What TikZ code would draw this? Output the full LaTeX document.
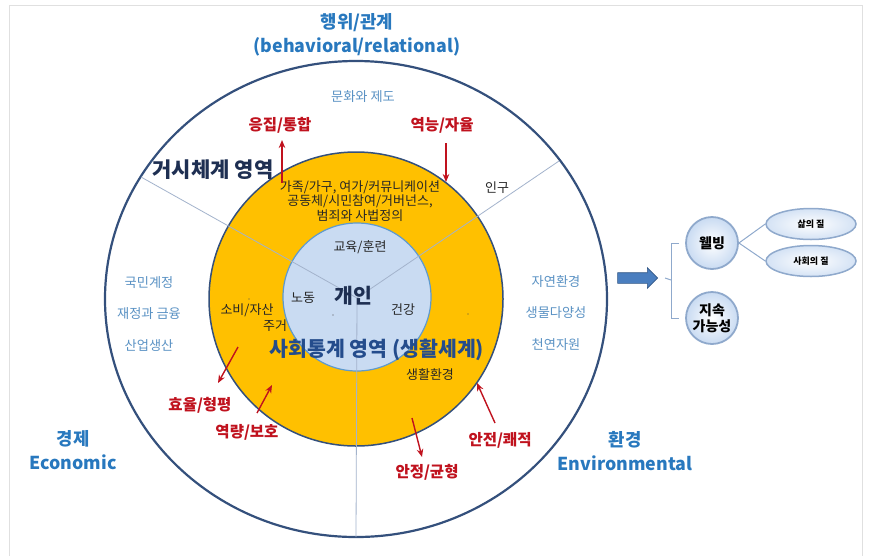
\documentclass[tikz,border=0pt]{standalone}
\usepackage{fontspec}
\setmainfont{Noto Sans CJK KR}
\usepackage{xcolor}
\usetikzlibrary{shapes.geometric,shapes.arrows,arrows.meta}

\definecolor{headblue}{HTML}{2878BE}
\definecolor{softblue}{HTML}{5A92C4}
\definecolor{navy}{HTML}{1E2F52}
\definecolor{lifeblue}{HTML}{244C8C}
\definecolor{darkred}{HTML}{C0121E}
\definecolor{ringline}{HTML}{34507C}
\definecolor{gold}{HTML}{FFC000}
\definecolor{pale}{HTML}{C9DBF2}
\definecolor{spoke}{HTML}{A3B3CC}
\definecolor{ballline}{HTML}{8FA9CC}
\definecolor{arrowblue}{HTML}{4A7EBF}

\begin{document}
\begin{tikzpicture}[x=1pt,y=-1pt,
  areahead/.style={font=\bfseries\fontsize{17.8}{24}\selectfont,text=headblue,align=center},
  sidetxt/.style={font=\fontsize{13.2}{15}\selectfont,text=softblue},
  ringtxt/.style={font=\fontsize{13}{14.5}\selectfont,text=black!85,align=center},
  redlab/.style={font=\bfseries\fontsize{15.5}{17}\selectfont,text=darkred},
  push/.style={->,>={Stealth[length=8pt,width=6.5pt]},draw=darkred,line width=1.4pt},
  goalball/.style={circle,minimum size=52pt,inner sep=0pt,draw=ballline,line width=1.8pt,
    inner color=white,outer color=pale,font=\bfseries\fontsize{14}{16}\selectfont,align=center},
  subell/.style={ellipse,minimum width=90pt,minimum height=31pt,inner sep=0pt,draw=ballline,line width=1.5pt,
    inner color=white,outer color=pale!80,font=\bfseries\fontsize{9}{10}\selectfont},
  bracket/.style={draw=ballline,line width=1pt}]
  \useasboundingbox (0,0) rectangle (869,555);
  \draw[black!12] (9,560) -- (9,5) -- (862,5) -- (862,560);

  % rings
  \coordinate (hub) at (357,298);
  \draw[ringline,line width=2.2pt,fill=white] (356,299) ellipse [x radius=251,y radius=238];
  \draw[ringline,line width=1.5pt,fill=gold] (356,299) circle [radius=147];
  \draw[headblue!75,line width=1.2pt,fill=pale] (357,297) circle [radius=74];
  \foreach \n/\p in {nw/{141,177},ne/{559,161},s/{356,537}} {
    \coordinate (\n) at (\p);
    \draw[spoke,line width=0.8pt] (hub) -- (\n);
  }

  % three domains
  \node[areahead] (act) at (357,35) {행위/관계\\(behavioral/relational)};
  \node[areahead] (econ) at (73,450) {경제\\Economic};
  \node[areahead] (env) at (625,451) {환경\\Environmental};

  \node[sidetxt] (culture) at (363,97) {문화와 제도};
  \foreach \n/\y/\t in {a/283/국민계정,b/314/재정과 금융,c/346/산업생산}
    \node[sidetxt] (eco\n) at (149,\y) {\t};
  \foreach \n/\y/\t in {a/282/자연환경,b/313/생물다양성,c/345/천연자원}
    \node[sidetxt] (nat\n) at (556,\y) {\t};

  \node[font=\bfseries\fontsize{21}{22}\selectfont,text=navy] (macro) at (213,170) {거시체계 영역};
  \node[ringtxt] (pop) at (497,188) {인구};

  % life world
  \node[ringtxt] (commun) at (360,201) {가족/가구, 여가/커뮤니케이션\\공동체/시민참여/거버넌스,\\범죄와 사법정의};
  \node[ringtxt] (edu) at (360,247) {교육/훈련};
  \node[ringtxt] (labor) at (303,298) {노동};
  \node[ringtxt] (health) at (403,310) {건강};
  \node[ringtxt] (cons) at (247,310) {소비/자산};
  \node[ringtxt] (house) at (275,326) {주거};
  \node[ringtxt] (living) at (430,375) {생활환경};
  \node[font=\bfseries\fontsize{20.5}{22}\selectfont,text=navy] (self) at (353,296) {개인};
  \node[font=\bfseries\fontsize{20.5}{22}\selectfont,text=lifeblue] (life) at (377,350) {사회통계 영역 (생활세계)};
  \foreach \p in {{249,299},{333,315},{468,314}} \fill[black!70] (\p) circle (0.7pt);

  % values
  \node[redlab] (coh) at (280,125) {응집/통합};
  \node[redlab] (auto) at (442,125) {역능/자율};
  \node[redlab] (eff) at (200,405) {효율/형평};
  \node[redlab] (cap) at (247,432) {역량/보호};
  \node[redlab] (bal) at (427,472) {안정/균형};
  \node[redlab] (safe) at (500,440) {안전/쾌적};
  \foreach \n/\ax/\ay/\bx/\by in {coh/282/183/282/140,auto/446/143/446/182,eff/238/347/218/383,
    cap/257/413/272/385,bal/412/418/422/457,safe/495/423/477/383} {
    \coordinate (\n0) at (\ax,\ay);
    \coordinate (\n1) at (\bx,\by);
    \draw[push] (\n0) -- (\n1);
  }

  % outcome
  \node[single arrow,fill=arrowblue,draw=arrowblue!70!black,line width=0.6pt,minimum height=40pt,
    single arrow head extend=5pt,inner sep=5pt] (go) at (635,278) {};
  \node[goalball] (well) at (712,243) {웰빙};
  \node[goalball] (sus) at (712,318) {지속\\가능성};
  \node[subell] (qol) at (811,224) {삶의 질};
  \node[subell] (sqol) at (811,261) {사회의 질};
  \coordinate (fork) at (671,280);
  \draw[bracket] ([xshift=-6pt]well.west) -| (fork) |- ([xshift=-6pt]sus.west);
  \draw[bracket] (fork) -- ([xshift=7pt]go.east);
  \draw[bracket] (well.east) -- (qol.west);
  \draw[bracket] (well.east) -- (sqol.west);
\end{tikzpicture}
\end{document}
